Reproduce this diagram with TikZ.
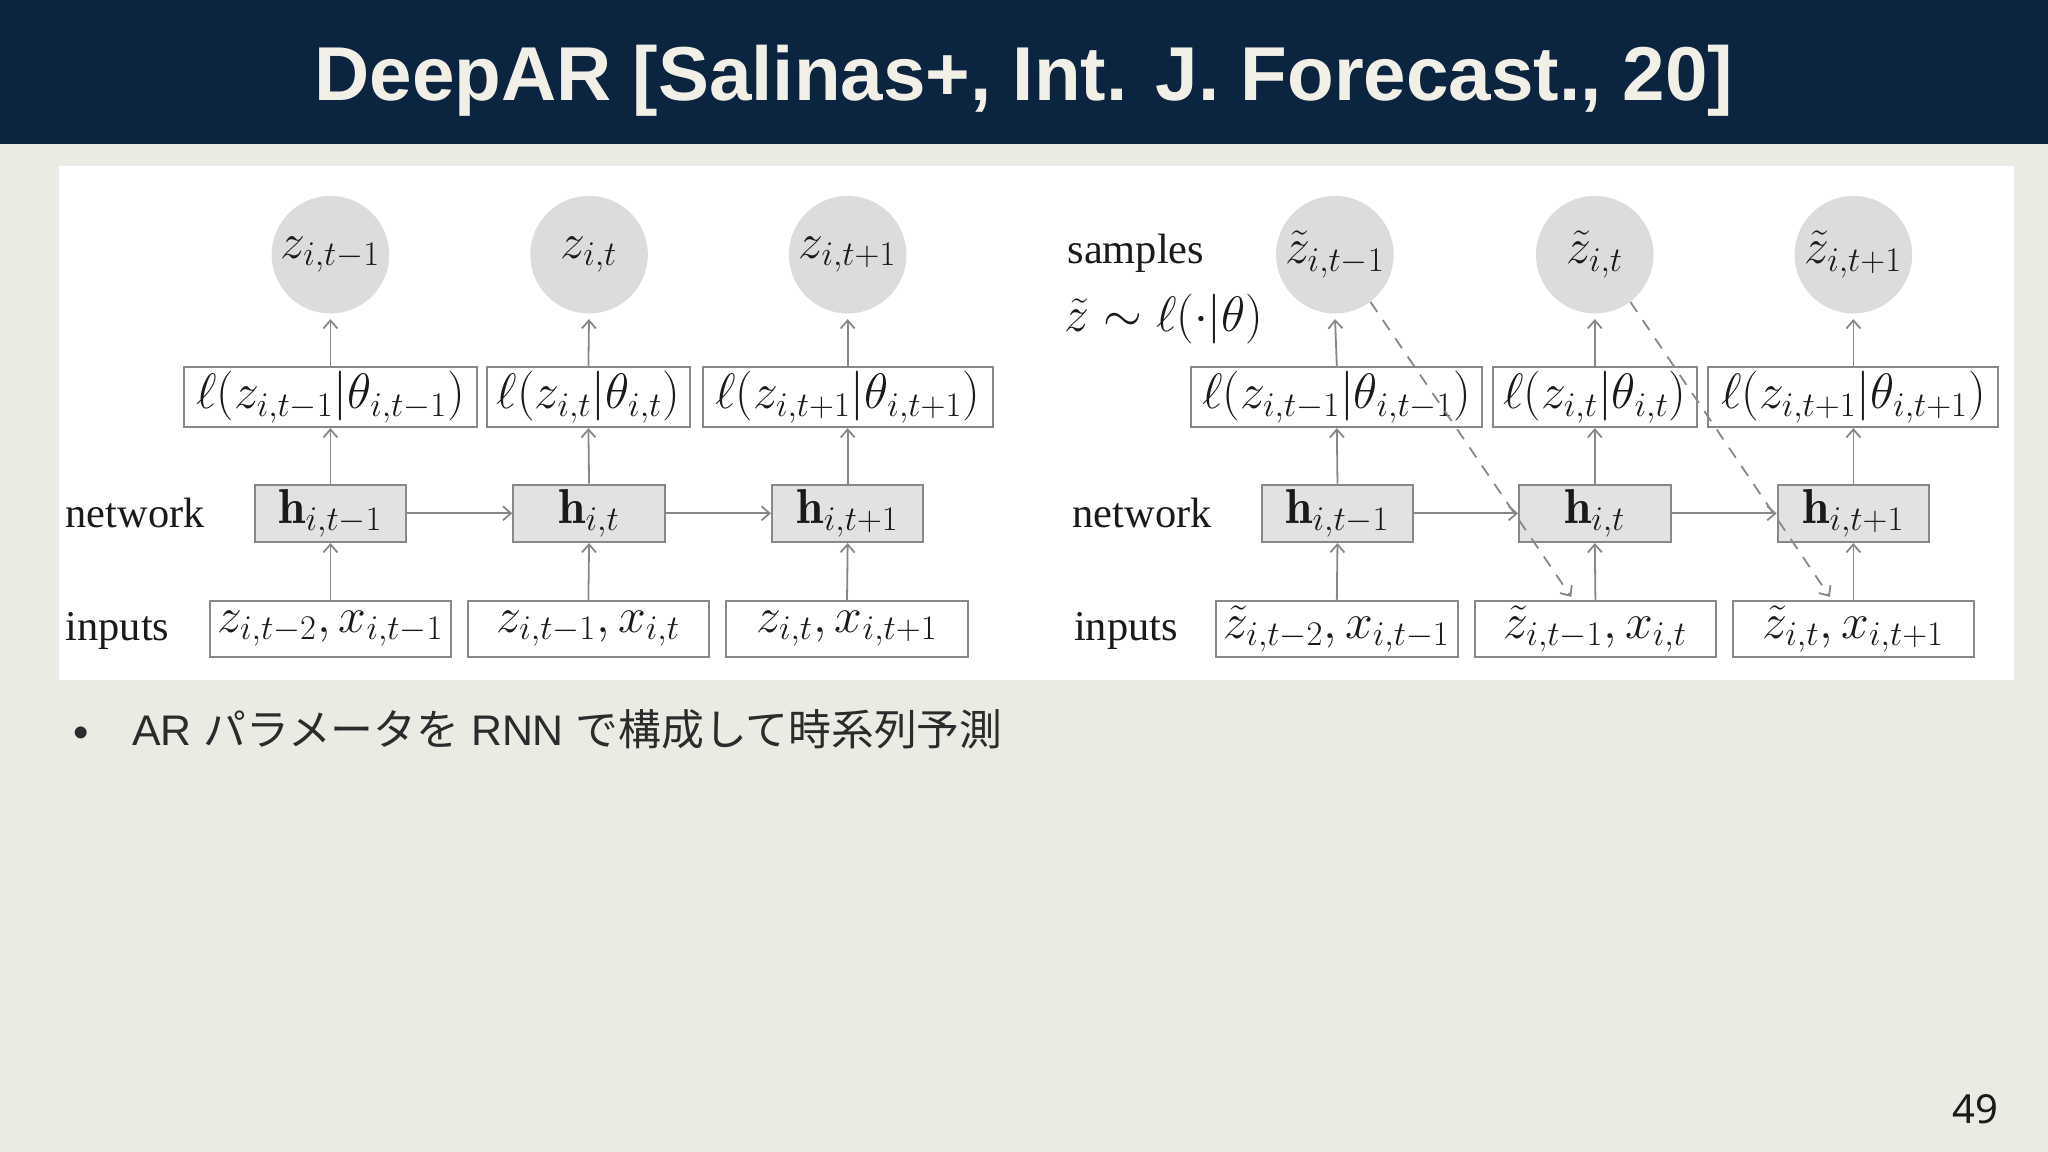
\documentclass[tikz,border=0pt]{standalone}
\usepackage{fontspec}
\newfontfamily\titlefont{Liberation Sans}
\newfontfamily\labfont{Liberation Serif}
\newfontfamily\jpfont{Noto Sans CJK JP}
\newfontfamily\numfont{Noto Sans}
\usetikzlibrary{arrows.meta,calc}
\definecolor{navy}{HTML}{0B2440}
\definecolor{bg}{HTML}{EBEBE4}
\definecolor{titletxt}{HTML}{F2EFE6}
\definecolor{cgray}{HTML}{DCDCDC}
\definecolor{hgray}{HTML}{E2E2E2}
\definecolor{edge}{HTML}{888888}
\definecolor{ink}{HTML}{1A1A1A}
\definecolor{bodytxt}{HTML}{2B2B2B}
\def\pxu{0.653pt}
\tikzset{
  mfont/.style={font=\fontsize{24.5}{29}\selectfont, text=ink},
  lfont/.style={font=\labfont\fontsize{21.2}{25}\selectfont, text=ink},
  likbox/.style={mfont, draw=edge, line width=1pt, fill=white, minimum height=46*\pxu, inner sep=0pt},
  hbox/.style={mfont, draw=edge, line width=1pt, fill=hgray, minimum height=44*\pxu, minimum width=116*\pxu, inner sep=0pt},
  inbox/.style={mfont, draw=edge, line width=1pt, fill=white, minimum height=43*\pxu, minimum width=185*\pxu, inner sep=0pt},
  obs/.style={mfont, circle, fill=cgray, minimum size=90*\pxu, inner sep=0pt},
  conn/.style={draw=edge, line width=0.9pt, -{Straight Barb[length=4pt,width=7pt]}},
  dconn/.style={conn, dash pattern=on 6pt off 5pt},
}
\begin{document}
\begin{tikzpicture}[x=0.653pt,y=-0.653pt]
\useasboundingbox (0,0) rectangle (1568,882);
\fill[bg] (0,0) rectangle (1568,882);
\fill[navy] (0,0) rectangle (1568,110);
\fill[white] (45,127) rectangle (1542,521);
\node[anchor=base, font=\titlefont\bfseries\fontsize{38.2}{44}\selectfont, text=titletxt, inner sep=0pt] (title) at (784,77) {DeepAR [Salinas+, Int. J. Forecast., 20]};

% ---------- left diagram ----------
\node[obs] (lc1) at (253,195) {$z_{i,t-1}$};
\node[obs] (lc2) at (451,195) {$z_{i,t}$};
\node[obs] (lc3) at (649,195) {$z_{i,t+1}$};
\node[likbox, minimum width=224*\pxu] (ll1) at (253,304) {$\ell(z_{i,t-1}|\theta_{i,t-1})$};
\node[likbox, minimum width=155*\pxu] (ll2) at (450.5,304) {$\ell(z_{i,t}|\theta_{i,t})$};
\node[likbox, minimum width=222*\pxu] (ll3) at (649,304) {$\ell(z_{i,t+1}|\theta_{i,t+1})$};
\node[hbox] (lh1) at (253,393) {$\mathbf{h}_{i,t-1}$};
\node[hbox] (lh2) at (451,393) {$\mathbf{h}_{i,t}$};
\node[hbox] (lh3) at (649,393) {$\mathbf{h}_{i,t+1}$};
\node[inbox] (li1) at (253,481.5) {$z_{i,t-2}, x_{i,t-1}$};
\node[inbox] (li2) at (450.5,481.5) {$z_{i,t-1}, x_{i,t}$};
\node[inbox] (li3) at (648.5,481.5) {$z_{i,t}, x_{i,t+1}$};
\node[lfont, anchor=base west, inner sep=0pt] (lnet) at (50,404) {network};
\node[lfont, anchor=base west, inner sep=0pt] (linp) at (50,490) {inputs};
\foreach \k in {1,2,3}{
  \draw[conn] (li\k.north) -- (lh\k.south);
  \draw[conn] (lh\k.north) -- (ll\k.south);
  \draw[conn, shorten >=4*\pxu] (ll\k.north) -- (lc\k.south);
}
\draw[conn] (lh1.east) -- (lh2.west);
\draw[conn] (lh2.east) -- (lh3.west);

% ---------- right diagram ----------
\node[obs] (rc1) at (1022,195) {$\tilde{z}_{i,t-1}$};
\node[obs] (rc2) at (1221,195) {$\tilde{z}_{i,t}$};
\node[obs] (rc3) at (1419,195) {$\tilde{z}_{i,t+1}$};
\node[likbox, minimum width=223*\pxu] (rl1) at (1023.5,304) {$\ell(z_{i,t-1}|\theta_{i,t-1})$};
\node[likbox, minimum width=156*\pxu] (rl2) at (1221,304) {$\ell(z_{i,t}|\theta_{i,t})$};
\node[likbox, minimum width=222*\pxu] (rl3) at (1419,304) {$\ell(z_{i,t+1}|\theta_{i,t+1})$};
\node[hbox] (rh1) at (1024,393) {$\mathbf{h}_{i,t-1}$};
\node[hbox] (rh2) at (1221,393) {$\mathbf{h}_{i,t}$};
\node[hbox] (rh3) at (1419,393) {$\mathbf{h}_{i,t+1}$};
\node[inbox] (ri1) at (1023.5,481.5) {$\tilde{z}_{i,t-2}, x_{i,t-1}$};
\node[inbox] (ri2) at (1221.5,481.5) {$\tilde{z}_{i,t-1}, x_{i,t}$};
\node[inbox] (ri3) at (1419,481.5) {$\tilde{z}_{i,t}, x_{i,t+1}$};
\node[lfont, anchor=base west, inner sep=0pt] (rsam) at (817,202) {samples};
\node[mfont, anchor=base west, inner sep=0pt] (rdist) at (815,254) {$\tilde{z}\sim\ell(\cdot|\theta)$};
\node[lfont, anchor=base west, inner sep=0pt] (rnet) at (821,404) {network};
\node[lfont, anchor=base west, inner sep=0pt] (rinp) at (822,490) {inputs};
\foreach \k in {1,2,3}{
  \draw[conn] (ri\k.north) -- (rh\k.south);
  \draw[conn] (rh\k.north) -- (rl\k.south);
  \draw[conn, shorten >=4*\pxu] (rl\k.north) -- (rc\k.south);
}
\draw[conn] (rh1.east) -- (rh2.west);
\draw[conn] (rh2.east) -- (rh3.west);
\coordinate (d1) at (1203,457);
\coordinate (d2) at (1401,457);
\draw[dconn] (rc1.-53) -- (d1);
\draw[dconn] (rc2.-53) -- (d2);

% ---------- body text ----------
\node[anchor=base, font=\titlefont\fontsize{22}{26}\selectfont, text=bodytxt, inner sep=0pt] (bullet) at (62,572) {•};
\node[anchor=base west, font=\fontsize{21.4}{26}\selectfont, text=bodytxt, inner sep=0pt] (body) at (101,571) {{\titlefont AR }{\jpfont パラメータを}{\titlefont\ RNN }{\jpfont で構成して時系列予測}};
\node[anchor=base east, font=\numfont\fontsize{20}{24}\selectfont, text=ink, inner sep=0pt] (page) at (1530,860) {49};
\end{tikzpicture}
\end{document}
